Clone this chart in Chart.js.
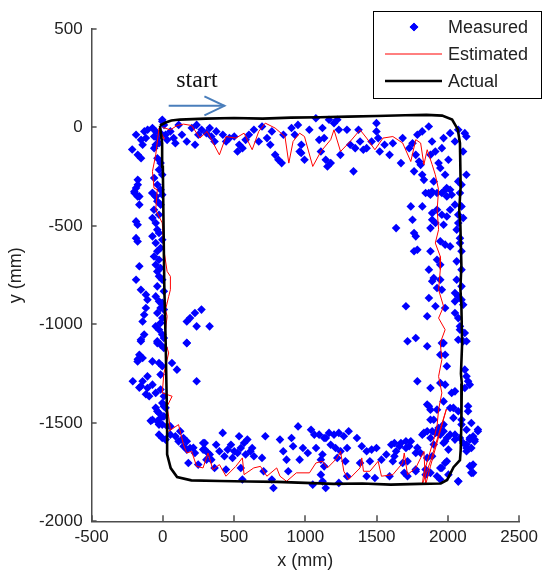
<!DOCTYPE html>
<html><head><meta charset="utf-8">
<script src="https://cdn.jsdelivr.net/npm/chart.js@4.4.1/dist/chart.umd.min.js"></script>
<style>html,body{margin:0;padding:0;background:#fff;}#wrap{width:544px;height:576px;}</style>
</head><body><div id="wrap"><canvas id="c" width="544" height="576"></canvas></div>
<script>
// ---- axis ticks ----
const xTicks = [-500, 0, 500, 1000, 1500, 2000, 2500];
const yTicks = [-2000, -1500, -1000, -500, 0, 500];
const xLabel = 'x (mm)';
const yLabel = 'y (mm)';
const seriesNames = ['Measured', 'Estimated', 'Actual'];
const startLabel = 'start';
const startArrow = { x0: 41, x1: 432, y: 110, textX: 94, textY: 205 };

// ---- Measured (blue diamonds), [x, y] in mm ----
const measuredTop = [
[-188,-37],[-153,-63],[-142,-88],[-176,-139],[-153,-156],[-130,-20],[-107,-12],[-119,-54],[-215,-112],
[-73,-3],[-50,-20],[-61,-46],[-38,-54],[-16,-29],[-4,30],[8,13],[-27,-80],[-50,-88],[19,-37],[30,-63],[-61,-105],[-4,39],
[53,-20],[76,-54],[111,13],[88,-80],[134,-37],[168,-71],[203,-3],[237,13],[249,-37],[272,-12],[226,-88],[306,-29],
[329,-3],[340,-46],[363,-71],[375,-20],[421,-37],[444,-71],[467,-54],[501,-46],[524,-122],[536,-88],[559,-105],
[581,-63],[604,-37],[639,-12],[673,-71],[696,5],[731,-54],[754,-88],[765,-20],[788,-139],[811,-164],[834,-181],
[846,-37],[903,-3],[926,-37],[960,-122],[972,-88],
[948,13],[971,-130],[994,-164],[1028,-12],[1074,47],[1097,-63],[1120,-3],[1132,-54],[1109,-122],[1143,-164],
[1155,-198],[1178,-181],[1166,39],[1201,22],[1224,39],[1246,-139],[1235,-12],[1292,-12],[1315,-88],[1338,-223],
[1350,-105],[1384,-71],[1373,-12],[1407,-113],[1430,-105],[1465,-71],[1499,22],[1499,-20],[1511,-54],[1522,-122],
[1556,-88],[1591,-139],[1614,-80],[1671,-181],[1683,-54],[1729,-105],[1752,-80],[1763,-223],[1775,-139],[1786,-37],
[1798,-173],[1809,-190],[1820,-240],[1820,-20],[1832,-266],[1866,5],[1878,-139],[1889,-71],[1901,-274],[1912,-122],
[1935,-181],[1947,-206],[1958,-105],[1970,-54],[1981,-240],[2004,-164],[2016,-29],[2027,-342],[2050,-71],[2073,-12],
[2073,-274],[2096,-291],[2119,-29],[2130,-46],[2107,-122],[2130,-240],[1866,-333],[1889,-325],[1958,-333],[1992,-308],[2016,-316]
];
const measuredLeft = [
[-176,-266],[-188,-308],[-199,-333],[-165,-350],[-176,-291],[-38,-156],[-16,-181],[-27,-215],[-4,-240],[-61,-257],
[-38,-291],[-16,-316],[-73,-333],[-50,-350],[-4,-342],
[-200,-325],[-177,-350],[-165,-392],[-188,-477],[-177,-494],[-188,-562],[-177,-579],[-165,-705],[-188,-773],[-154,-824],
[-119,-849],[-108,-875],[-119,-917],[-131,-951],[-142,-985],[-131,-1052],[-154,-1086],
[-73,-333],[-50,-350],[-39,-375],[-62,-418],[-27,-443],[-73,-460],[-50,-485],[-39,-519],[-27,-536],[-50,-587],
[-39,-629],[-62,-655],[-27,-672],[-50,-697],[-39,-731],[-27,-756],[-39,-807],[-50,-858],[7,-832],[-4,-891],
[-16,-917],[-39,-942],[-4,-968],[-16,-993],[-27,-1027],[-4,-1052],[-39,-1086],
[-16,-392],[-4,-570],[-16,-714],[-4,-773],[-27,-883],[7,-925],[-50,-1010],[7,-1069],[-73,-553],[-16,-612],
[-154,-1078],[-39,-1095],[-16,-1103],[7,-1120],[-165,-1154],[-142,-1171],[-177,-1188],[-73,-1188],[-27,-1196],
[-4,-1213],[-16,-1255],[-211,-1289],[-108,-1264],[-142,-1289],[-154,-1314],[-108,-1323],[-73,-1306],[-50,-1348],
[-16,-1331],[7,-1365],[-96,-1365],[-176,-1177],[-165,-1321],[-119,-1355],[-85,-1490],
[-4,-1399],[-50,-1424],[19,-1424],[-27,-1450],[-73,-1484],[-39,-1492],[7,-1467],[-4,-1509],[30,-1517],
[-27,-1560],[-4,-1577],[19,-1585],[-39,-1441],[-16,-1475],[-27,-1509],[7,-1416]
];
const measuredInner = [
[168,-985],[191,-968],[225,-942],[271,-925],[237,-1010],[328,-1010],[168,-1094],[168,-1095],[64,-1196],[99,-1230],[237,-1289]
];
const measuredBottom = [
[53,-1560],[88,-1568],[110,-1594],[133,-1585],[145,-1619],[168,-1636],[214,-1627],[283,-1602],[294,-1636],[179,-1704],
[329,-1661],[340,-1687],[53,-1518],[122,-1543],[145,-1577],[168,-1594],[191,-1628],[225,-1653],[294,-1602],[283,-1636],
[317,-1653],[306,-1687],[374,-1611],[397,-1644],[420,-1551],[432,-1670],[455,-1636],[478,-1611],[501,-1644],[489,-1678],
[535,-1568],[524,-1653],[547,-1628],[570,-1602],[581,-1661],[593,-1585],[615,-1644],[627,-1628],[639,-1670],[696,-1678],
[719,-1568],[765,-1788],[822,-1585],[845,-1644],[868,-1687],[880,-1746],[903,-1577],[914,-1619],[949,-1518],[960,-1687],
[983,-1628],[1017,-1653],[1040,-1535],[1063,-1560],[1075,-1628],[1109,-1687],[1121,-1797],[1144,-1577],[248,-1712],
[363,-1729],[443,-1737],[547,-1729],[558,-1788],[707,-1746],[776,-1831],[1052,-1814],
[1097,-1560],[1132,-1577],[1166,-1551],[1201,-1560],[1235,-1551],[1270,-1568],[1304,-1543],[1362,-1577],[1178,-1611],
[1212,-1628],[1247,-1644],[1293,-1628],[1224,-1678],[1281,-1695],[1120,-1661],[1132,-1721],[1109,-1763],[1143,-1831],
[1235,-1805],[1293,-1771],[1396,-1619],[1430,-1644],[1465,-1636],[1499,-1628],[1384,-1704],[1453,-1695],[1534,-1687],
[1568,-1661],[1603,-1611],[1637,-1644],[1671,-1602],[1706,-1628],[1740,-1594],[1775,-1653],[1488,-1780],[1591,-1771],
[1717,-1771],[1430,-1771],[1775,-1746],[1614,-1695],[1683,-1704],[1625,-1602],[1660,-1619],[1706,-1594],[1729,-1619],
[1717,-1695],[1694,-1754],[1625,-1670]
];
const measuredRight = [
[1844,-333],[1878,-342],[1924,-333],[1970,-325],[1993,-350],[1740,-401],[1821,-401],[1890,-435],[1924,-418],[1958,-443],
[1993,-452],[2016,-418],[2050,-392],[2096,-401],[2073,-443],[2108,-460],[1752,-469],[1890,-469],[1913,-485],[1637,-511],
[1878,-511],[1970,-494],[1763,-536],[1775,-553],[1786,-621],[1763,-629],[1878,-629],[1947,-578],[1981,-595],[2016,-604],
[2085,-562],[2096,-629],[2062,-680],[1924,-672],[1947,-697],[1867,-722],[1901,-765],[1947,-773],[1924,-815],[1958,-824],
[1890,-781],[2050,-841],[2073,-858],[2096,-875],[2050,-883],[2108,-900],[1867,-866],[1706,-908],[1913,-908],[1981,-917],
[2073,-968],[2085,-1010],[2119,-1044],[1855,-959],[1775,-1069],[1717,-1086],[1970,-1095],[2073,-1078],[2050,-942],
[2096,-722],[2062,-519],
[2085,-333],[2073,-485],[2085,-587],[2062,-773],[2096,-807],[2085,-1027],[2108,-1086],
[1855,-1111],[1958,-1095],[2131,-1086],[1947,-1154],[1981,-1154],[1993,-1213],[2119,-1230],[2131,-1264],[2142,-1289],
[1786,-1289],[1878,-1323],[1947,-1298],[1981,-1306],[2050,-1340],[2027,-1348],[2119,-1323],[2154,-1306],[1855,-1407],
[1970,-1391],[1878,-1433],[2039,-1424],[2073,-1441],[2096,-1484],[2142,-1416],[2165,-1501],[2211,-1534],[2177,-1568],
[2154,-1585],[1878,-1484],[1832,-1551],[1890,-1543],[1935,-1526],[1947,-1560],[1970,-1543],[1993,-1577],[2016,-1560],
[2050,-1585],[2085,-1577],[2108,-1602],[2131,-1610],[2188,-1585],[1901,-1610],[1970,-1602],[2004,-1636],[1981,-1704],
[1947,-1729],[2073,-1797],[2154,-1720],[2165,-1754],[2177,-1712],[2131,-1644],[1809,-1653],[1855,-1678],[1890,-1670],
[1775,-1737],[1844,-1763],[1924,-1771],[1947,-1788],[1786,-1627],
[1821,-1560],[1855,-1543],[1878,-1577],[1901,-1484],[1913,-1551],[1947,-1535],[1970,-1509],[1981,-1594],[1867,-1416],
[1924,-1433],[2016,-1425],[2039,-1475],[2050,-1560],[2096,-1509],[2131,-1535],[2142,-1441],[2154,-1577],[2165,-1628],
[2188,-1594],[2211,-1543],[2131,-1628],[1993,-1695],[1958,-1729],[2004,-1763],[1844,-1737],[1878,-1754],[2165,-1721],
[2177,-1754],[2073,-1797]
];

// ---- Estimated (red line) path, [x, y] in mm ----
const estimatedPath = [
[0,0],[53,-12],[100,10],[145,17],[202,10],[260,-54],[310,-20],[397,-139],[443,-46],[512,-54],[570,-29],[627,-113],
[673,-20],[719,22],[788,-3],[857,-46],[884,-181],[914,-71],[960,-29],[994,-46],[1052,-198],[1109,-122],[1178,-62],
[1201,-12],[1247,-122],[1315,-71],[1384,-12],[1430,-54],[1488,-113],[1545,-54],[1614,-46],[1683,-79],[1740,-173],
[1775,-62],[1809,-79],[1832,-189],[1855,-113],[1890,-189],[1912,-240],[1935,-316],[1925,-418],[1935,-519],[1912,-587],
[1947,-655],[1947,-722],[1935,-824],[1970,-909],[1935,-968],[1981,-1027],[1947,-1094],[1958,-1179],[1935,-1264],
[1958,-1348],[1935,-1433],[1924,-1518],[1901,-1585],[1866,-1670],[1832,-1754],[1820,-1815],[1880,-1690],[1960,-1500],
[1990,-1430],[1940,-1560],[1878,-1720],[1844,-1814],[1832,-1645],[1821,-1661],[1775,-1729],[1717,-1763],[1694,-1653],
[1683,-1704],[1614,-1763],[1534,-1771],[1511,-1695],[1453,-1746],[1408,-1746],[1396,-1678],[1384,-1729],[1304,-1788],
[1270,-1746],[1247,-1645],[1224,-1678],[1155,-1729],[1120,-1695],[1074,-1704],[1029,-1754],[937,-1754],[868,-1797],
[822,-1771],[799,-1729],[730,-1771],[685,-1721],[638,-1729],[570,-1763],[558,-1678],[512,-1721],[443,-1771],[397,-1712],
[351,-1738],[317,-1653],[282,-1729],[237,-1721],[202,-1645],[168,-1653],[145,-1611],[110,-1509],[41,-1543],[53,-1534],
[41,-1470],[30,-1416],[65,-1365],[-4,-1348],[7,-1250],[41,-1145],[19,-1094],[19,-1027],[30,-959],[19,-925],[41,-858],
[53,-824],[53,-756],[30,-731],[7,-621],[-4,-485],[-50,-418],[-39,-316],[-62,-308],[-73,-223],[-50,-139],[-27,-3],
[10,-60],[-20,-20]
];

// ---- Actual (black line) path, [x, y] in mm ----
const actualPath = [
[-20,10],[20,25],[60,35],[120,40],[300,45],[500,48],[700,45],[900,50],[1100,52],[1300,55],[1500,58],[1700,62],
[1850,64],[1960,60],[2030,40],[2070,-10],[2085,-80],[2090,-300],[2080,-420],[2088,-500],[2095,-700],[2088,-820],
[2095,-900],[2100,-1100],[2092,-1250],[2098,-1300],[2095,-1500],[2090,-1640],[2085,-1690],[2040,-1725],[1995,-1790],
[1950,-1808],[1800,-1810],[1600,-1814],[1400,-1808],[1200,-1810],[1000,-1805],[800,-1800],[600,-1798],[400,-1795],
[200,-1792],[100,-1775],[55,-1730],[30,-1660],[30,-1500],[25,-1300],[20,-1100],[10,-800],[5,-500],[0,-200],[-5,-80],[-20,10]
];

const measured = [].concat(measuredTop, measuredLeft, measuredInner, measuredBottom, measuredRight);
const toXY = a => a.map(p => ({x: p[0], y: p[1]}));

const AXIS_COLOR = '#4d4d4d';
const TEXT_COLOR = '#222222';
const FONT = '"Liberation Sans", Arial, sans-serif';

const markerStyle = {pointStyle: 'rectRot', pointRadius: 4.3, color: '#0000ff'};

const decor = {
  id: 'decor',
  afterDraw(chart) {
    const ctx = chart.ctx, xs = chart.scales.x, ys = chart.scales.y;
    ctx.save();
    // inward ticks
    ctx.strokeStyle = AXIS_COLOR; ctx.lineWidth = 1.5;
    xTicks.forEach(v => { const px = Math.round(xs.getPixelForValue(v)); ctx.beginPath(); ctx.moveTo(px, ys.bottom); ctx.lineTo(px, ys.bottom - 6); ctx.stroke(); });
    yTicks.forEach(v => { const py = Math.round(ys.getPixelForValue(v)); ctx.beginPath(); ctx.moveTo(xs.left, py); ctx.lineTo(xs.left + 5, py); ctx.stroke(); });
    // start annotation
    const ax0 = xs.getPixelForValue(startArrow.x0), ax1 = xs.getPixelForValue(startArrow.x1), ay = ys.getPixelForValue(startArrow.y);
    ctx.strokeStyle = '#4a7ebb'; ctx.lineWidth = 2;
    ctx.beginPath(); ctx.moveTo(ax0, ay); ctx.lineTo(ax1, ay); ctx.stroke();
    ctx.beginPath(); ctx.moveTo(ax1 - 20, ay - 9.5); ctx.lineTo(ax1, ay); ctx.lineTo(ax1 - 20, ay + 9.5); ctx.stroke();
    ctx.fillStyle = '#111'; ctx.font = '24px "Liberation Serif", "Times New Roman", serif';
    ctx.textAlign = 'left'; ctx.textBaseline = 'alphabetic';
    ctx.fillText(startLabel, xs.getPixelForValue(startArrow.textX), ys.getPixelForValue(startArrow.textY));
    // legend
    const bx = 373.5, by = 11.5, bw = 168, bh = 87;
    ctx.fillStyle = '#fff'; ctx.fillRect(bx, by, bw, bh);
    ctx.strokeStyle = '#000'; ctx.lineWidth = 1; ctx.strokeRect(bx, by, bw, bh);
    const rows = [27, 54, 81];
    ctx.font = '18px ' + FONT; ctx.fillStyle = TEXT_COLOR; ctx.textBaseline = 'middle';
    seriesNames.forEach((n, i) => ctx.fillText(n, 448, rows[i] + 1));
    ctx.fillStyle = markerStyle.color;
    Chart.helpers.drawPoint(ctx, {pointStyle: markerStyle.pointStyle, radius: markerStyle.pointRadius, rotation: 0, borderWidth: 0}, 414, rows[0]);
    ctx.fill();
    ctx.strokeStyle = '#ff0000'; ctx.lineWidth = 1;
    ctx.beginPath(); ctx.moveTo(385, rows[1]); ctx.lineTo(442, rows[1]); ctx.stroke();
    ctx.strokeStyle = '#000'; ctx.lineWidth = 2.5;
    ctx.beginPath(); ctx.moveTo(385, rows[2]); ctx.lineTo(442, rows[2]); ctx.stroke();
    ctx.restore();
  }
};

new Chart(document.getElementById('c'), {
  type: 'scatter',
  data: {
    datasets: [
      {label: seriesNames[2], data: toXY(actualPath), showLine: true, borderColor: '#000000', borderWidth: 2.6, pointRadius: 0, tension: 0, order: 0},
      {label: seriesNames[1], data: toXY(estimatedPath), showLine: true, borderColor: '#ff0000', borderWidth: 1, pointRadius: 0, tension: 0, order: 1},
      {label: seriesNames[0], data: toXY(measured), showLine: false, pointStyle: markerStyle.pointStyle, pointRadius: markerStyle.pointRadius,
       backgroundColor: markerStyle.color, borderWidth: 0, order: 2}
    ]
  },
  options: {
    responsive: false, animation: false, devicePixelRatio: 1,
    layout: {padding: {left: 0, right: 18.7, top: 29, bottom: 0}},
    plugins: {legend: {display: false}, tooltip: {enabled: false}},
    scales: {
      x: {
        type: 'linear', min: xTicks[0], max: xTicks[xTicks.length - 1],
        ticks: {stepSize: xTicks[1] - xTicks[0], color: TEXT_COLOR, font: {family: FONT, size: 17}, padding: 6, maxRotation: 0,
                callback: v => String(v)},
        grid: {display: false, drawTicks: false},
        border: {display: true, color: AXIS_COLOR, width: 1.5},
        title: {display: true, text: xLabel, color: TEXT_COLOR, font: {family: FONT, size: 18}, padding: {top: 0, bottom: 4}},
        afterFit: s => { s.height = 54.7; }
      },
      y: {
        type: 'linear', min: yTicks[0], max: yTicks[yTicks.length - 1],
        ticks: {stepSize: yTicks[1] - yTicks[0], color: TEXT_COLOR, font: {family: FONT, size: 17}, padding: 9,
                callback: v => String(v)},
        grid: {display: false, drawTicks: false},
        border: {display: true, color: AXIS_COLOR, width: 1.5},
        title: {display: true, text: yLabel, color: TEXT_COLOR, font: {family: FONT, size: 18}, padding: {top: 5, bottom: 0}},
        afterFit: s => { s.width = 91.6; }
      }
    }
  },
  plugins: [decor]
});
</script></body></html>
